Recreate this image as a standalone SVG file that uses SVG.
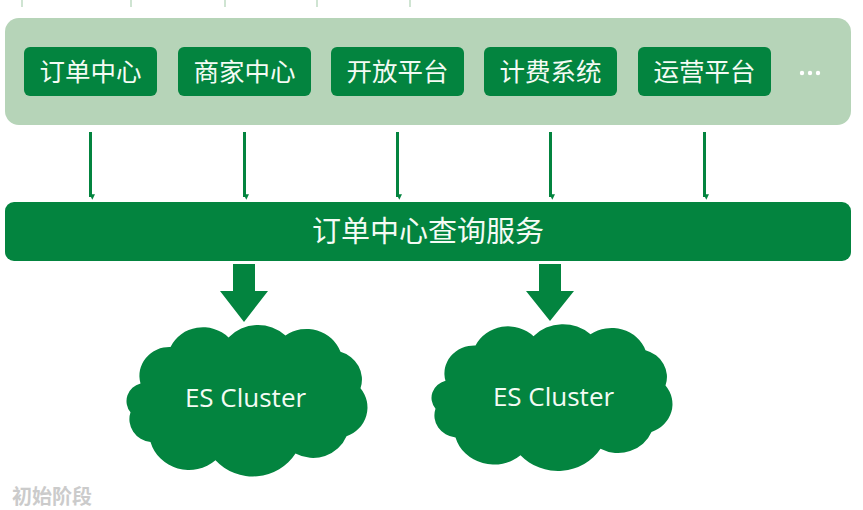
<svg xmlns="http://www.w3.org/2000/svg" width="863" height="510" viewBox="0 0 863 510">
<defs>
<style>
.btn{fill:#03843f}
.btxt{font-family:"Noto Sans CJK SC","Noto Sans",sans-serif;font-size:25.5px;fill:#f4fbf4;text-anchor:middle}
.bar{fill:#03843f}
.bartxt{font-family:"Noto Sans CJK SC","Noto Sans",sans-serif;font-size:29px;fill:#f4fbf4;text-anchor:middle}
.cl{fill:#03843f}
.cltxt{font-family:"Open Sans","Noto Sans",sans-serif;font-size:26px;fill:#f4fbf4;text-anchor:middle}
.thin{stroke:#03843f;stroke-width:3;fill:none;marker-end:url(#ah)}
.block{fill:#03843f}
.tick{stroke:#cfe4d2;stroke-width:2}
</style>
<marker id="ah" viewBox="0 0 6 6" refX="3" refY="5" markerWidth="1.8" markerHeight="1.8" orient="auto-start-reverse" markerUnits="strokeWidth">
<path d="M0,0 L6,0 L3,6 Z" fill="#03843f" transform="rotate(-90 3 3)"/>
</marker>
<path id="cloud" d="M-105,-12 A30,30 0 0 1 -75,-50 A36,36 0 0 1 -17,-60 A40,40 0 0 1 40,-62 A36,36 0 0 1 95,-45 A30,30 0 0 1 115,-7 A32,32 0 0 1 101,43 A36,36 0 0 1 50,61 A50,50 0 0 1 -30,68 A40,40 0 0 1 -95,49 A24,24 0 0 1 -115,18 A19,19 0 0 1 -105,-12 Z"/>
</defs>
<rect width="863" height="510" fill="#ffffff"/>
<g id="ticks">
<line class="tick" x1="22" y1="0" x2="22" y2="7"/>
<line class="tick" x1="131" y1="0" x2="131" y2="7"/>
<line class="tick" x1="225" y1="0" x2="225" y2="7"/>
<line class="tick" x1="317" y1="0" x2="317" y2="7"/>
<line class="tick" x1="410" y1="0" x2="410" y2="7"/>
</g>
<g id="panel">
<rect x="5" y="18" width="846" height="107" rx="14" fill="#b6d4b8"/>
</g>
<g id="n1"><rect class="btn" x="24" y="47" width="133" height="49" rx="6"/><text class="btxt" x="90.5" y="81">订单中心</text></g>
<g id="n2"><rect class="btn" x="178" y="47" width="133" height="49" rx="6"/><text class="btxt" x="244.5" y="81">商家中心</text></g>
<g id="n3"><rect class="btn" x="331" y="47" width="133" height="49" rx="6"/><text class="btxt" x="397.5" y="81">开放平台</text></g>
<g id="n4"><rect class="btn" x="484" y="47" width="133" height="49" rx="6"/><text class="btxt" x="550.5" y="81">计费系统</text></g>
<g id="n5"><rect class="btn" x="638" y="47" width="133" height="49" rx="6"/><text class="btxt" x="704.5" y="81">运营平台</text></g>
<g id="more" fill="#ffffff"><circle cx="802" cy="73" r="2.2"/><circle cx="810" cy="73" r="2.2"/><circle cx="818" cy="73" r="2.2"/></g>
<g id="service"><rect class="bar" x="5" y="202" width="846" height="59" rx="9"/><text class="bartxt" x="428" y="241.5">订单中心查询服务</text></g>
<g id="es1"><use href="#cloud" class="cl" transform="translate(245.5 395) scale(1 0.96)"/><text class="cltxt" x="245.5" y="407">ES Cluster</text></g>
<g id="es2"><use href="#cloud" class="cl" transform="translate(550.5 392) scale(1 0.93)"/><text class="cltxt" x="553.5" y="406">ES Cluster</text></g>
<g id="connectors">
<line class="thin" x1="90.5" y1="132" x2="90.5" y2="197"/>
<line class="thin" x1="244.5" y1="132" x2="244.5" y2="197"/>
<line class="thin" x1="397.5" y1="132" x2="397.5" y2="197"/>
<line class="thin" x1="550.5" y1="132" x2="550.5" y2="197"/>
<line class="thin" x1="704.5" y1="132" x2="704.5" y2="197"/>
<path class="block" d="M233,264 H255 V291 H268 L244,322 L220,291 H233 Z"/>
<path class="block" d="M539,264 H561 V291 H574 L550,321 L526,291 H539 Z"/>
</g>
<text x="12" y="504" font-family="Noto Sans CJK SC, sans-serif" font-size="20" font-weight="bold" fill="#cbcbcb">初始阶段</text>
</svg>
